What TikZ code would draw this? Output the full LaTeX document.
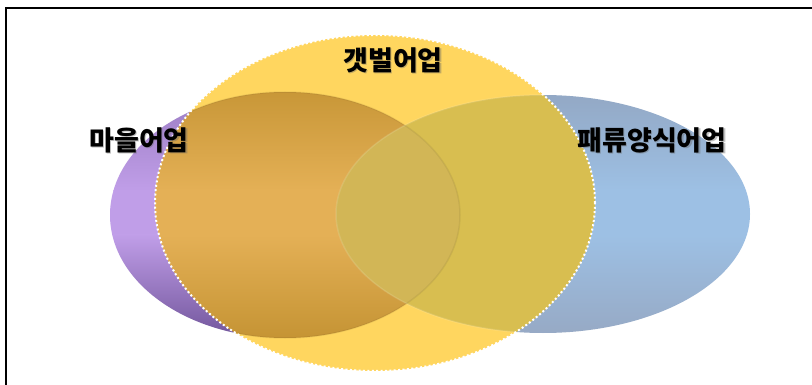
\documentclass[tikz,border=0pt]{standalone}
\usepackage{fontspec}
\newfontfamily\krfont{Noto Sans CJK KR}
\definecolor{purTop}{RGB}{150,120,190}
\definecolor{purMid}{RGB}{192,158,232}
\definecolor{purBot}{RGB}{108,80,150}
\definecolor{bluTop}{RGB}{146,166,194}
\definecolor{bluMid}{RGB}{157,192,228}
\definecolor{bluBot}{RGB}{150,168,195}
\definecolor{yel}{RGB}{255,214,95}
\definecolor{pyTop}{RGB}{197,148,52}
\definecolor{pyMid}{RGB}{228,176,86}
\definecolor{pyBot}{RGB}{195,146,50}
\definecolor{byCol}{RGB}{216,190,80}
\definecolor{triCol}{RGB}{210,182,86}
\begin{document}
\begin{tikzpicture}[x=1pt,y=-1pt,
  lbl/.style={font=\krfont\bfseries\fontsize{27}{29}\selectfont, text=black, inner sep=0pt},
  shd/.style={lbl, text=black!60, opacity=0.4},
]
\useasboundingbox (0,0) rectangle (812,385);
\fill[white] (0,0) rectangle (812,385);
\draw[line width=2pt] (6,386) -- (6,8) -- (813,8);
% purple ellipse
\begin{scope}
  \clip (285,215) ellipse [x radius=175pt, y radius=123pt];
  \shade[top color=purTop, bottom color=purMid] (100,80) rectangle (470,190.5);
  \fill[purMid] (100,190) rectangle (470,235.5);
  \shade[top color=purMid, bottom color=purBot] (100,235) rectangle (470,345);
\end{scope}
% blue ellipse
\begin{scope}
  \clip (543,214) ellipse [x radius=207pt, y radius=119pt];
  \shade[top color=bluTop, bottom color=bluMid] (330,85) rectangle (755,190.5);
  \fill[bluMid] (330,190) rectangle (755,235.5);
  \shade[top color=bluMid, bottom color=bluBot] (330,235) rectangle (755,340);
\end{scope}
% yellow circle
\fill[yel] (375,203) ellipse [x radius=220pt, y radius=168pt];
\begin{scope}
  \clip (375,203) ellipse [x radius=220pt, y radius=168pt];
  \begin{scope}
    \clip (285,215) ellipse [x radius=175pt, y radius=123pt];
    \shade[top color=pyTop, bottom color=pyMid] (100,80) rectangle (470,190.5);
    \fill[pyMid] (100,190) rectangle (470,235.5);
    \shade[top color=pyMid, bottom color=pyBot] (100,235) rectangle (470,345);
  \end{scope}
  \begin{scope}
    \clip (543,214) ellipse [x radius=207pt, y radius=119pt];
    \fill[byCol] (543,214) ellipse [x radius=207pt, y radius=119pt];
    \clip (285,215) ellipse [x radius=175pt, y radius=123pt];
    \fill[triCol] (543,214) ellipse [x radius=207pt, y radius=119pt];
  \end{scope}
  \draw[black, opacity=0.06, line width=1.5pt] (285,215) ellipse [x radius=175pt, y radius=123pt];
  \draw[white, opacity=0.12, line width=1.5pt] (543,214) ellipse [x radius=207pt, y radius=119pt];
\end{scope}
\draw[white, line width=2pt, dash pattern=on 2pt off 2.4pt] (375,203) ellipse [x radius=220pt, y radius=168pt];
% labels
\node[shd] (s1) at (140.5,141.5) {마을어업};
\node[lbl] (maeul) at (139,140) {마을어업};
\node[shd] (s2) at (394.5,61.5) {갯벌어업};
\node[lbl] (gaet) at (393,60) {갯벌어업};
\node[shd] (s3) at (653.5,141.5) {패류양식어업};
\node[lbl] (paeryu) at (652,140) {패류양식어업};
\end{tikzpicture}
\end{document}
